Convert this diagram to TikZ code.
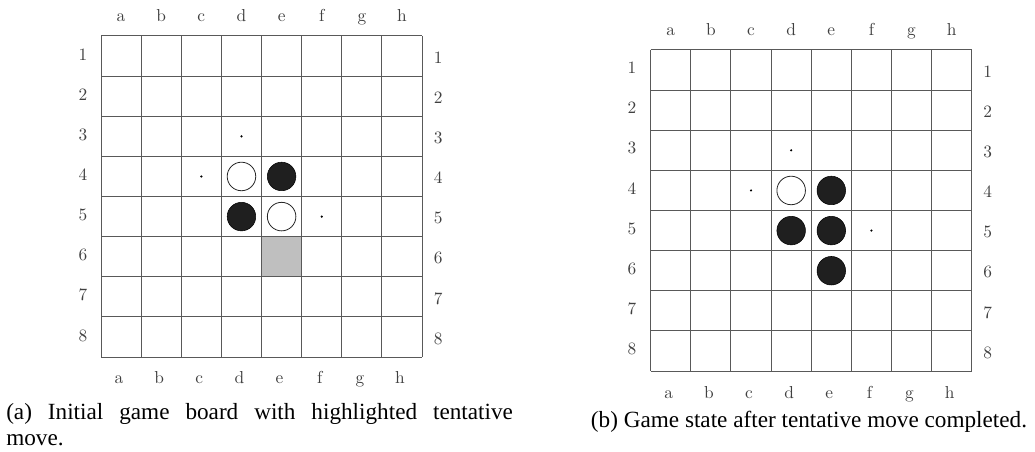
\documentclass[tikz,border=0pt]{standalone}
\usepackage{fontspec}
\newfontfamily\capfont{Liberation Serif}
\tikzset{
	gridline/.style={draw=black!65, line width=0.75pt},
	coordlabel/.style={text=black!75, font=\fontsize{10}{12}\selectfont, scale=1.3, transform shape, inner sep=0pt, anchor=base},
	whitedisc/.style={draw=black!85, fill=white, line width=0.6pt},
	blackdisc/.style={draw=black, fill=black!88},
	hintdot/.style={fill=black},
	capstyle/.style={font=\capfont\fontsize{17.4}{19.5}\selectfont, inner sep=0pt}
}
\begin{document}
\begin{tikzpicture}[x=0.75pt,y=-0.75pt]
	\useasboundingbox (0,0) rectangle (1035,452);
	\begin{scope}[shift={(101,36)},x=30.1pt,y=-30.1pt]
		\fill[black!25] (4,5) rectangle (5,6);
		\foreach \i in {0,...,8} {
			\draw[gridline] (\i,0) -- (\i,8);
			\draw[gridline] (0,\i) -- (8,\i);
		}
		\foreach \col [count=\i from 0] in {a,b,c,d,e,f,g,h} {
			\node[coordlabel] (atop-\col) at (\i+0.5,-0.37) {\col};
			\node[coordlabel] (abot-\col) at (\i+0.45,8.66) {\col};
		}
		\foreach \r in {1,...,8} {
			\node[coordlabel] (aleft-\r) at (-0.45,\r-0.4) {\r};
			\node[coordlabel] (aright-\r) at (8.4,\r-0.32) {\r};
		}
		\draw[whitedisc] (3.5,3.5) circle [radius=10.7pt];
		\fill[blackdisc] (4.5,3.5) circle [radius=10.7pt];
		\fill[blackdisc] (3.5,4.5) circle [radius=10.7pt];
		\draw[whitedisc] (4.5,4.5) circle [radius=10.7pt];
		\fill[hintdot] (3.5,2.5) circle [radius=0.9pt];
		\fill[hintdot] (2.5,3.5) circle [radius=0.9pt];
		\fill[hintdot] (5.5,4.5) circle [radius=0.9pt];
	\end{scope}
	\begin{scope}[shift={(650.7,50)},x=30.1pt,y=-30.1pt]
		\foreach \i in {0,...,8} {
			\draw[gridline] (\i,0) -- (\i,8);
			\draw[gridline] (0,\i) -- (8,\i);
		}
		\foreach \col [count=\i from 0] in {a,b,c,d,e,f,g,h} {
			\node[coordlabel] (btop-\col) at (\i+0.5,-0.36) {\col};
			\node[coordlabel] (bbot-\col) at (\i+0.45,8.68) {\col};
		}
		\foreach \r in {1,...,8} {
			\node[coordlabel] (bleft-\r) at (-0.47,\r-0.41) {\r};
			\node[coordlabel] (bright-\r) at (8.4,\r-0.32) {\r};
		}
		\draw[whitedisc] (3.5,3.5) circle [radius=10.7pt];
		\fill[blackdisc] (4.5,3.5) circle [radius=10.7pt];
		\fill[blackdisc] (3.5,4.5) circle [radius=10.7pt];
		\fill[blackdisc] (4.5,4.5) circle [radius=10.7pt];
		\fill[blackdisc] (4.5,5.5) circle [radius=10.7pt];
		\fill[hintdot] (3.5,2.5) circle [radius=0.9pt];
		\fill[hintdot] (2.5,3.5) circle [radius=0.9pt];
		\fill[hintdot] (5.5,4.5) circle [radius=0.9pt];
	\end{scope}
	\node[capstyle, anchor=north west, text width=380pt, align=justify] (capa) at (6,403) {(a) Initial game board with highlighted tentative\linebreak move.};
	\node[capstyle, anchor=base] (capb) at (809,427) {(b) Game state after tentative move completed.};
\end{tikzpicture}
\end{document}
